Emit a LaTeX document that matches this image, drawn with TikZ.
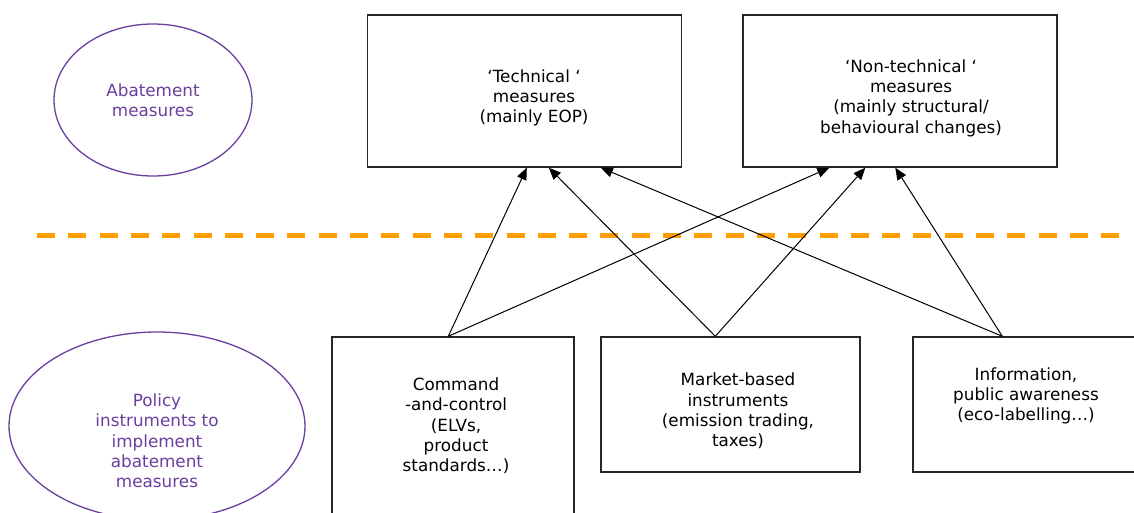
\documentclass[tikz,border=0pt]{standalone}
\usepackage{fontspec}
\setmainfont{DejaVu Sans}
\usetikzlibrary{arrows.meta,calc,shapes.geometric}
\definecolor{purp}{RGB}{106,63,159}
\definecolor{orng}{RGB}{255,158,0}
\tikzset{
  box/.style={draw=black!85, line width=1.4pt, rectangle, inner sep=0pt},
  oval/.style={draw=purp, line width=1.3pt, ellipse, inner sep=0pt},
  txt/.style={align=center, inner sep=0pt, font=\fontsize{16.8}{20.3}\selectfont},
  ptxt/.style={txt, text=purp},
  arr/.style={-{Triangle[length=12pt,width=10pt]}, line width=1pt, black},
  sep/.style={draw=orng, line width=5pt, dash pattern=on 18pt off 13.3pt}
}
\begin{document}
\begin{tikzpicture}[x=1pt,y=-1pt]
\clip (0,0) rectangle (1134,512);
\fill[white] (0,0) rectangle (1134,512);
% ellipses
\node[oval, minimum width=198pt, minimum height=152pt] (abE) at (153,100) {};
\node[ptxt] (abT) at (153,100) {Abatement\\measures};
\node[oval, minimum width=296pt, minimum height=188pt] (poE) at (157,426) {};
\node[ptxt] (poT) at (157,441) {Policy\\instruments to\\implement\\abatement\\measures};
% top boxes
\node[box, minimum width=314pt, minimum height=152pt] (tech) at (524.5,91) {};
\node[txt] (techT) at (534,98) {‘Technical ‘\\measures\\(mainly EOP)};
\node[box, minimum width=314pt, minimum height=152pt] (nont) at (900,91) {};
\node[txt] (nontT) at (911,98) {‘Non-technical ‘\\measures\\(mainly structural/\\behavioural changes)};
% bottom boxes
\node[box, minimum width=242pt, minimum height=200pt] (cmd) at (453,437) {};
\node[txt] (cmdT) at (456,426) {Command\\-and-control\\(ELVs,\\product\\standards…)};
\node[box, minimum width=259pt, minimum height=135pt] (mkt) at (730.5,404.5) {};
\node[txt] (mktT) at (738,411) {Market-based\\instruments\\(emission trading,\\taxes)};
\node[box, minimum width=240pt, minimum height=135pt] (inf) at (1033,404.5) {};
\node[txt] (infT) at (1026,396) {Information,\\public awareness\\(eco-labelling…)};
% separator
\coordinate (sL) at (37,235);
\coordinate (sR) at (1120,235);
\draw[sep] (sL) -- (sR);
% arrow endpoints
\coordinate (c0) at ([xshift=117pt]cmd.north west);
\coordinate (m0) at ([xshift=115pt]mkt.north west);
\coordinate (i0) at ([xshift=90pt]inf.north west);
\coordinate (t1) at ([xshift=160pt]tech.south west);
\coordinate (t2) at ([xshift=182pt]tech.south west);
\coordinate (t3) at ([xshift=234pt]tech.south west);
\coordinate (n1) at ([xshift=87pt]nont.south west);
\coordinate (n2) at ([xshift=123pt]nont.south west);
\coordinate (n3) at ([xshift=153pt]nont.south west);
\draw[arr] (c0) -- (t1);
\draw[arr] (c0) -- (n1);
\draw[arr] (m0) -- (t2);
\draw[arr] (m0) -- (n2);
\draw[arr] (i0) -- (t3);
\draw[arr] (i0) -- (n3);
\end{tikzpicture}
\end{document}
